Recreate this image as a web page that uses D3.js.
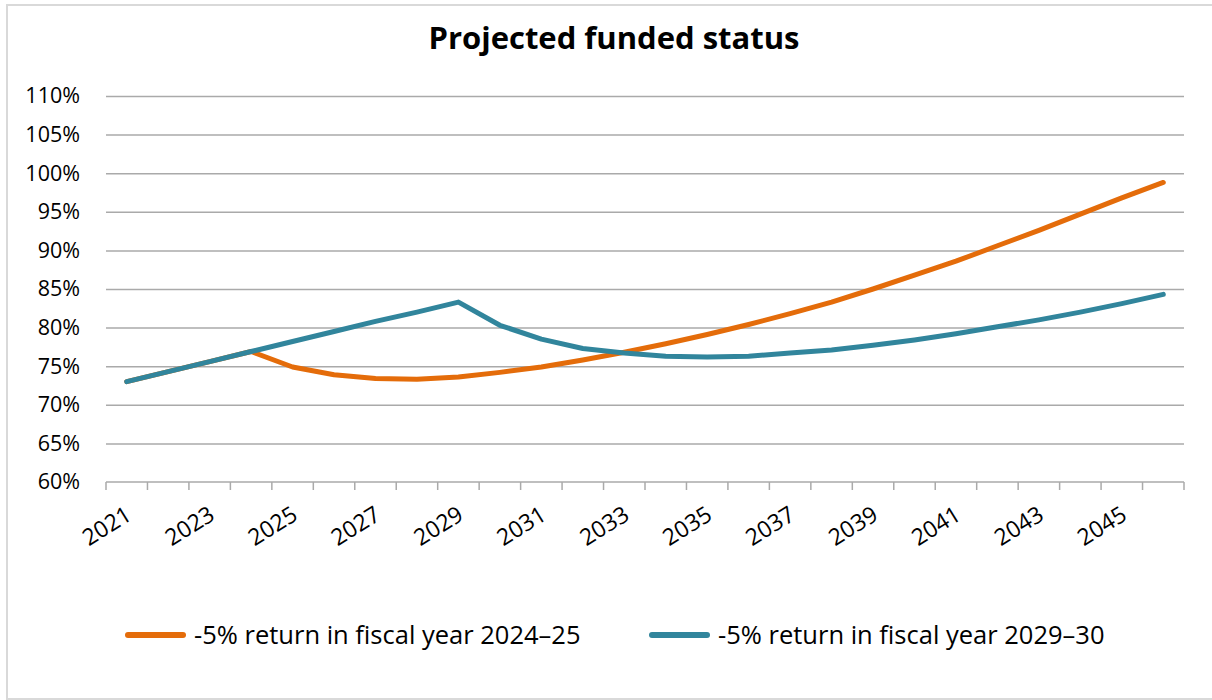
<!DOCTYPE html>
<html>
<head>
<meta charset="utf-8">
<script src="https://d3js.org/d3.v7.min.js"></script>
<style>
    body { margin: 0; background: #ffffff; }
    text { font-family: "Open Sans", Lato, sans-serif; fill: #000000; }
</style>
</head>
<body>
<svg id="drawing_region"></svg>
<script>
// categories
const years = ['2021','2022','2023','2024','2025','2026','2027','2028','2029','2030',
               '2031','2032','2033','2034','2035','2036','2037','2038','2039','2040',
               '2041','2042','2043','2044','2045','2046'];

// funded status, percent
const shock2024 = [73.0, 74.3, 75.6, 76.9, 74.9, 73.9, 73.4, 73.3, 73.6, 74.2,
                   74.9, 75.8, 76.8, 77.9, 79.1, 80.4, 81.8, 83.3, 85.0, 86.8,
                   88.6, 90.6, 92.6, 94.7, 96.8, 98.8];
const shock2029 = [73.0, 74.3, 75.6, 76.9, 78.2, 79.5, 80.8, 82.0, 83.3, 80.3,
                   78.5, 77.3, 76.7, 76.3, 76.2, 76.3, 76.7, 77.1, 77.7, 78.4,
                   79.2, 80.1, 81.0, 82.0, 83.1, 84.3];

const seriesNames = ['-5% return in fiscal year 2024\u201325', '-5% return in fiscal year 2029\u201330'];
const yTicks = [60, 65, 70, 75, 80, 85, 90, 95, 100, 105, 110];
const xLabels = ['2021','2023','2025','2027','2029','2031','2033','2035','2037','2039','2041','2043','2045'];

class LineChart {

    constructor( config ) {
        this.config = {
            parent: config.parent,
            width: config.width || 1212,
            height: config.height || 700,
            margin: config.margin
        }
        this.init();
    }

    init() {
        let self = this;

        self.svg = d3.select( self.config.parent )
            .attr('width', self.config.width)
            .attr('height', self.config.height);

        self.svg.append('rect')
            .attr('x', 7).attr('y', 5)
            .attr('width', 1212).attr('height', 694)
            .attr('fill', 'none')
            .attr('stroke', '#d9d9d9')
            .attr('stroke-width', 2);

        const m = self.config.margin;
        self.inner_width = self.config.width - m.left - m.right;
        self.inner_height = self.config.height - m.top - m.bottom;

        self.chart = self.svg.append('g')
            .attr('transform', `translate(${m.left}, ${m.top})`);

        self.xscale = d3.scaleBand()
            .domain( years )
            .range( [0, self.inner_width] );

        self.yscale = d3.scaleLinear()
            .domain( [60, 110] )
            .range( [self.inner_height, 0] );
    }

    update() {
        let self = this;

        self.series = [
            { name: seriesNames[0], color: '#e46c0a', values: shock2024 },
            { name: seriesNames[1], color: '#31859c', values: shock2029 }
        ];
        self.render();
    }

    render() {
        let self = this;

        // title
        self.svg.append('text')
            .attr('x', 614)
            .attr('y', 49)
            .attr('text-anchor', 'middle')
            .style('font-size', '31px')
            .style('font-weight', 'bold')
            .text('Projected funded status');

        // horizontal grid
        const grid = d3.axisLeft( self.yscale )
            .tickValues( yTicks.slice(1) )
            .tickSize( -self.inner_width )
            .tickFormat('');
        self.chart.append('g')
            .call( grid )
            .call( g => g.select('.domain').remove() )
            .call( g => g.selectAll('line').attr('stroke', '#aaaaaa').attr('stroke-width', 1.5) );

        // y labels
        const yaxis = d3.axisLeft( self.yscale )
            .tickValues( yTicks )
            .tickSize( 0 )
            .tickPadding( 26 )
            .tickFormat( d => d + '%' );
        self.chart.append('g')
            .call( yaxis )
            .call( g => g.select('.domain').remove() )
            .call( g => g.selectAll('text').style('font-size', '21.5px').attr('fill', '#000') );

        // x axis: line with ticks between categories
        const bounds = years.map( d => self.xscale(d) ).concat( [self.inner_width] );
        const xg = self.chart.append('g')
            .attr('transform', `translate(0, ${self.inner_height})`);
        xg.append('line')
            .attr('x1', 0).attr('x2', self.inner_width)
            .attr('stroke', '#aaaaaa').attr('stroke-width', 1.5);
        xg.selectAll('.tick-mark')
            .data( bounds )
            .enter()
            .append('line')
            .attr('x1', d => d).attr('x2', d => d)
            .attr('y1', 0).attr('y2', 8)
            .attr('stroke', '#aaaaaa').attr('stroke-width', 1.5);

        xg.selectAll('.xlabel')
            .data( xLabels )
            .enter()
            .append('text')
            .attr('text-anchor', 'end')
            .attr('transform', d => `translate(${self.xscale(d) + self.xscale.bandwidth()/2 - 2}, 23) rotate(-32)`)
            .attr('dy', '0.7em')
            .style('font-size', '23px')
            .text( d => d );

        // lines
        const line = d3.line()
            .x( (d, i) => self.xscale(years[i]) + self.xscale.bandwidth()/2 )
            .y( d => self.yscale(d) );

        self.chart.selectAll('.series')
            .data( self.series )
            .enter()
            .append('path')
            .attr('d', d => line(d.values))
            .attr('fill', 'none')
            .attr('stroke', d => d.color)
            .attr('stroke-width', 5)
            .attr('stroke-linejoin', 'round')
            .attr('stroke-linecap', 'round');

        // legend
        const lx = [128, 652];
        const legend = self.svg.selectAll('.legend')
            .data( self.series )
            .enter()
            .append('g')
            .attr('transform', (d, i) => `translate(${lx[i]}, 635)`);
        legend.append('line')
            .attr('x1', 0).attr('x2', 55)
            .attr('stroke', d => d.color)
            .attr('stroke-width', 6)
            .attr('stroke-linecap', 'round');
        legend.append('text')
            .attr('x', 66)
            .attr('dy', '0.35em')
            .style('font-size', '25.5px')
            .text( d => d.name );
    }
}

const chart = new LineChart({
    parent: '#drawing_region',
    width: 1212,
    height: 700,
    margin: { top: 96, right: 28, bottom: 218, left: 106 }
});
chart.update();
</script>
</body>
</html>
